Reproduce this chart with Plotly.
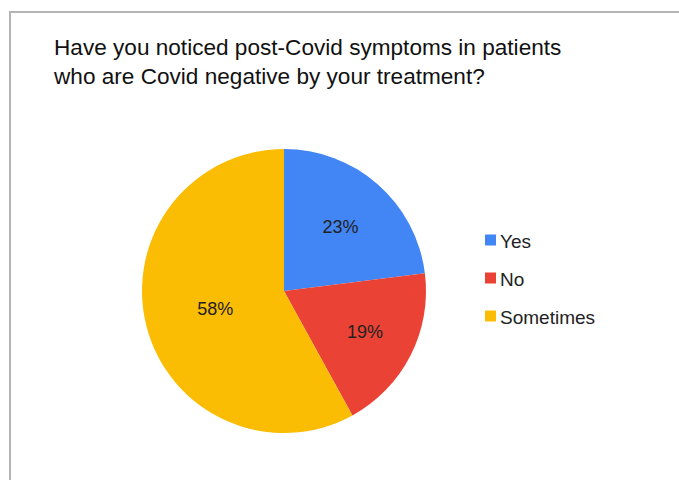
import plotly.graph_objects as go

labels = ["Yes", "No", "Sometimes"]
values = [23, 19, 58]
colors = ["#4285F4", "#EA4335", "#FBBC04"]
title_text = "Have you noticed post-Covid symptoms in patients<br>who are Covid negative by your treatment?"

W, H = 679, 480
FONT = "Liberation Sans, Arial, sans-serif"

def px(x):
    return x / W

def py(y):
    return 1 - y / H

fig = go.Figure()
cx, cy, d = 284, 291, 284
fig.add_trace(go.Pie(
    labels=labels, values=values, sort=False, direction="clockwise", rotation=0,
    marker=dict(colors=colors, line=dict(width=0)),
    texttemplate="%{percent:.0%}", textposition="inside", insidetextorientation="horizontal",
    textfont=dict(family=FONT, size=18, color="#222222"),
    domain=dict(x=[px(cx - d / 2), px(cx + d / 2)], y=[py(cy + d / 2), py(cy - d / 2)]),
    showlegend=False, hoverinfo="label+percent",
))

shapes = [dict(type="rect", xref="paper", yref="paper", x0=px(10), x1=px(700), y0=py(500), y1=py(12),
               line=dict(color="#b4b4b4", width=2), fillcolor="rgba(0,0,0,0)")]
annotations = [dict(text=title_text, xref="paper", yref="paper", x=px(51), y=py(33), xanchor="left", yanchor="top",
                    align="left", showarrow=False,
                    font=dict(family=FONT, size=22.6, color="#111111"))]
for i, (lab, col) in enumerate(zip(labels, colors)):
    yc = 240 + 38 * i
    shapes.append(dict(type="rect", xref="paper", yref="paper", x0=px(485), x1=px(496), y0=py(yc + 5.5), y1=py(yc - 5.5),
                       fillcolor=col, line=dict(width=0)))
    annotations.append(dict(text=lab, xref="paper", yref="paper", x=px(498), y=py(yc + 1), xanchor="left", yanchor="middle",
                            showarrow=False, font=dict(family=FONT, size=19, color="#222222")))

fig.update_layout(width=W, height=H, margin=dict(l=0, r=0, t=0, b=0), paper_bgcolor="white", plot_bgcolor="white",
                  shapes=shapes, annotations=annotations)
fig.write_html("out.html", config={"displayModeBar": False},
               post_script="document.body.style.margin='0';document.body.style.overflow='hidden';")
